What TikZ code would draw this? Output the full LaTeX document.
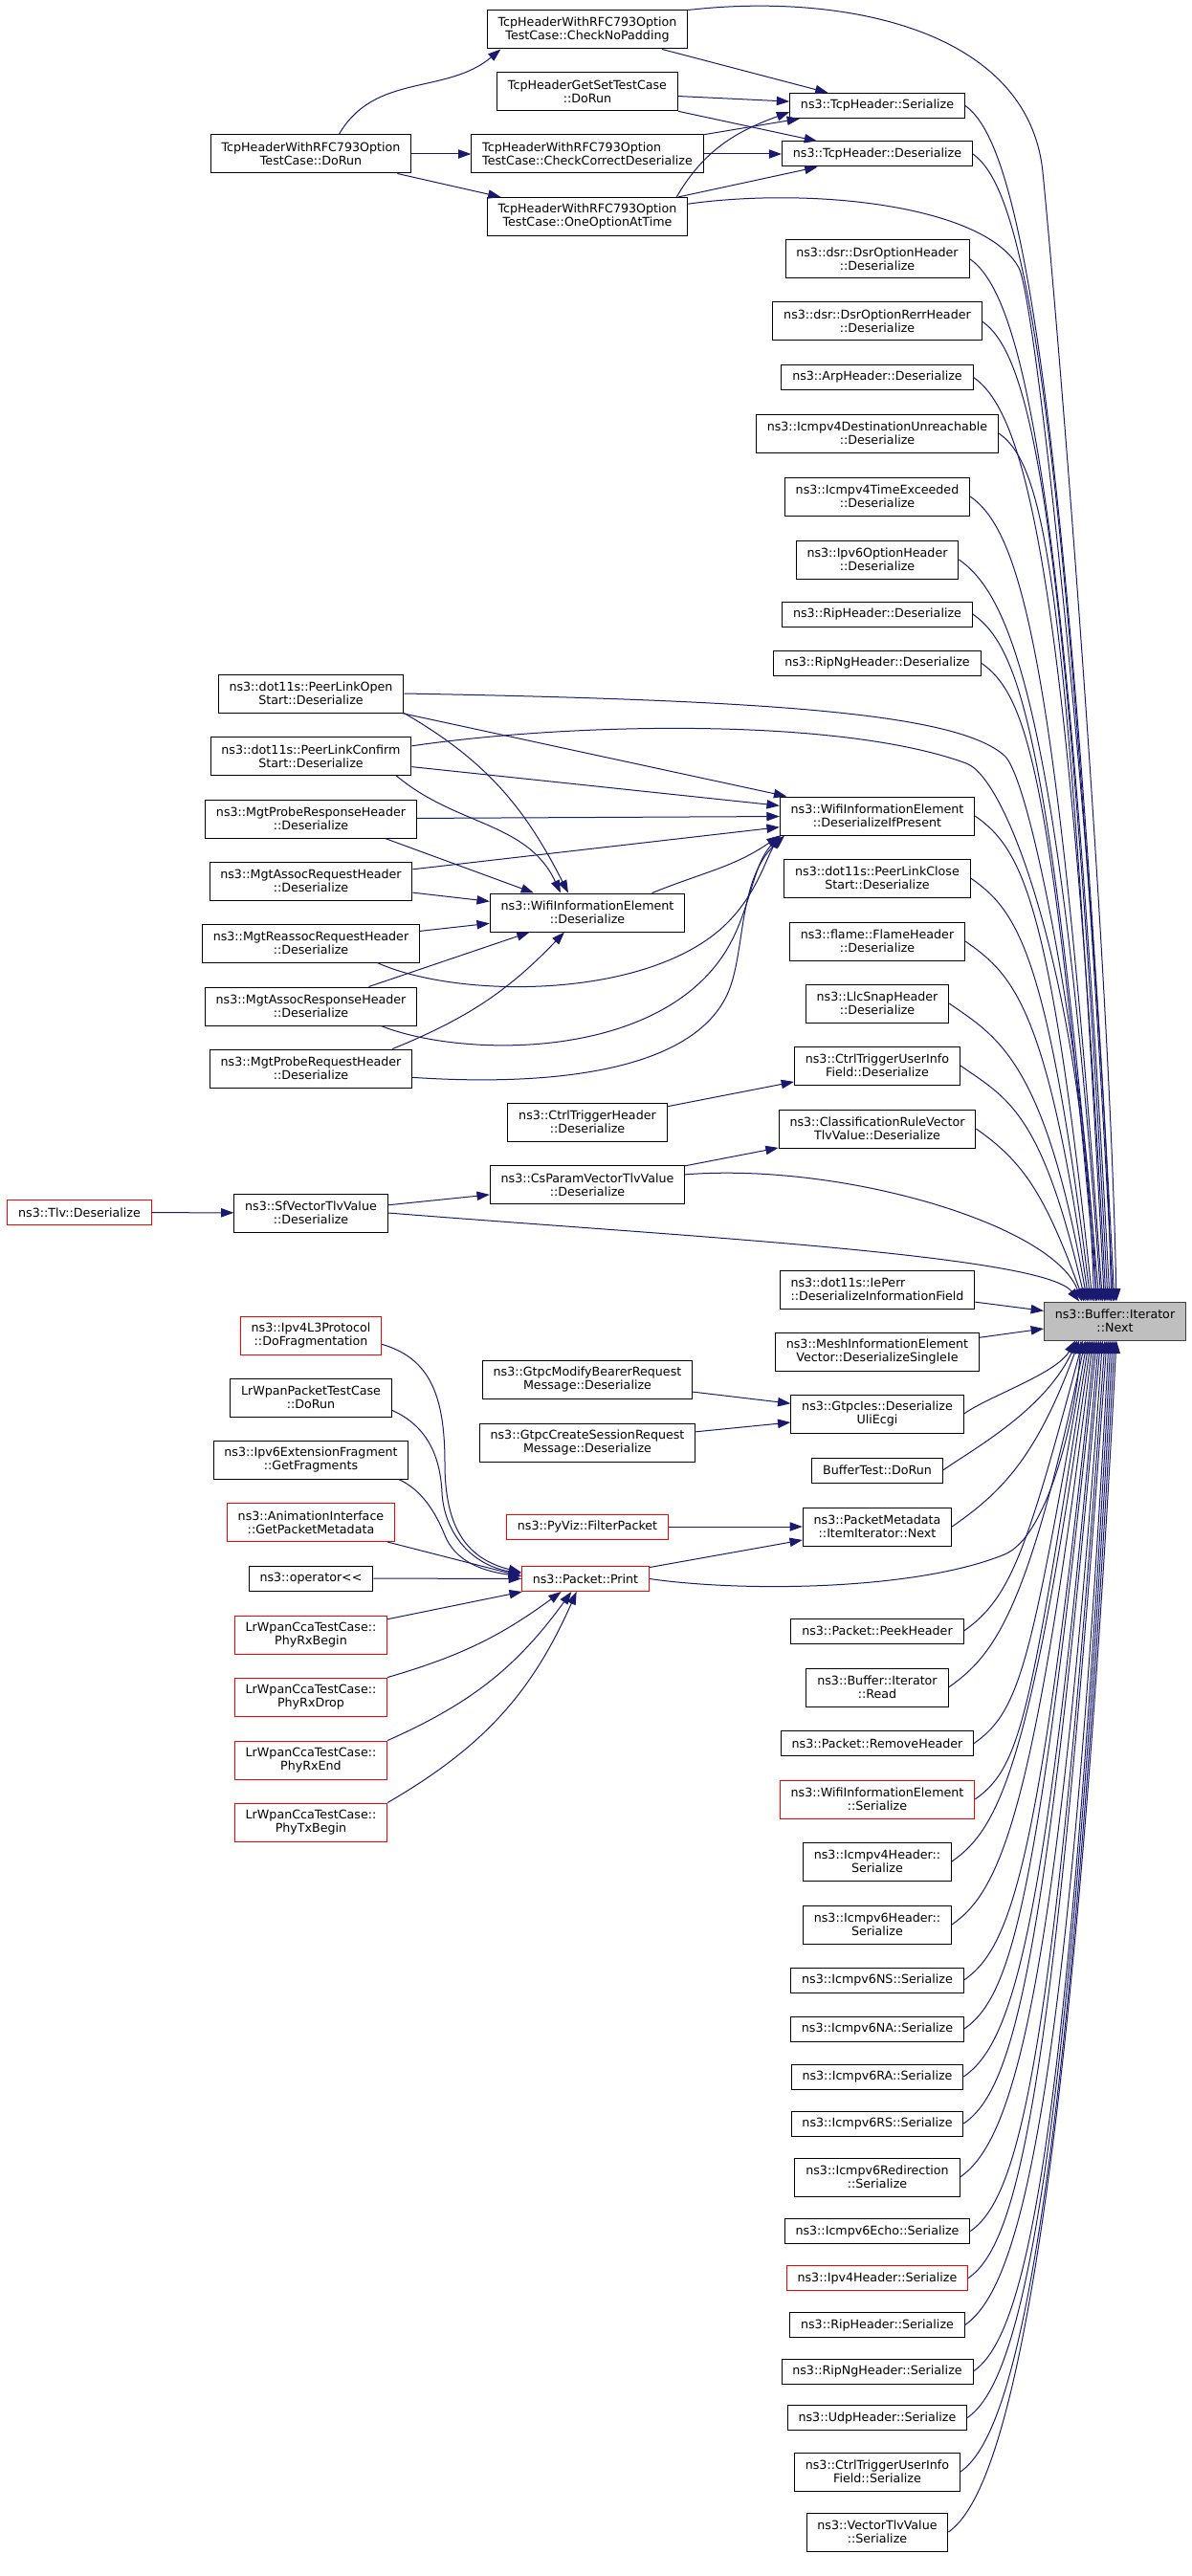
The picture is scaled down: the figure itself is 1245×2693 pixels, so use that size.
\documentclass[tikz,border=0pt]{standalone}
\usepackage{fontspec}
\setmainfont{DejaVu Sans}
\usetikzlibrary{arrows.meta}
\definecolor{edgeblue}{HTML}{191970}
\definecolor{boxred}{HTML}{FF0000}
\definecolor{boxgrey}{HTML}{BFBFBF}
\definecolor{boxborder}{HTML}{404040}

\begin{document}
\begin{tikzpicture}[x=0.75pt, y=-0.75pt,
	fn/.style={rectangle, draw=black, fill=white, line width=0.75pt, font=\fontsize{9.5}{10.5}\selectfont, align=center, inner xsep=8.5pt, inner ysep=2pt, minimum height=19.5pt},
	fn2/.style={fn, minimum height=30pt},
	fnred/.style={draw=boxred},
	fntarget/.style={fill=boxgrey, draw=boxborder},
	call/.style={draw=edgeblue, line width=0.75pt, -{Triangle[length=10pt, width=7pt]}},
	tonextup/.style 2 args={out=-35, in=#1, out distance=45pt, in distance=#2},
	tonextdown/.style 2 args={out=35, in=#1, out distance=45pt, in distance=#2}]
		\useasboundingbox (0,0) rectangle (1245,2693);
		\fill[white] (0,0) rectangle (1245,2693);
		%Ziel
		\node[fn2, fntarget] (next) at (1165.5,1381) {ns3::Buffer::Iterator\\::Next};
		%Tcp-Tests
		\node[fn2] (nopad) at (614,31) {TcpHeaderWithRFC793Option\\TestCase::CheckNoPadding};
		\node[fn2] (getset) at (614,96) {TcpHeaderGetSetTestCase\\::DoRun};
		\node[fn2] (rfcrun) at (325,161) {TcpHeaderWithRFC793Option\\TestCase::DoRun};
		\node[fn2, align=left] (correct) at (614,161) {TcpHeaderWithRFC793Option\\TestCase::CheckCorrectDeserialize};
		\node[fn2] (oneopt) at (614,226.5) {TcpHeaderWithRFC793Option\\TestCase::OneOptionAtTime};
		%rechte Spalte
		\node[fn] (tcpser) at (917,110.5) {ns3::TcpHeader::Serialize};
		\node[fn] (tcpdes) at (917,161) {ns3::TcpHeader::Deserialize};
		\node[fn2] (dsr) at (917,270.5) {ns3::dsr::DsrOptionHeader\\::Deserialize};
		\node[fn2] (dsrrerr) at (917,336) {ns3::dsr::DsrOptionRerrHeader\\::Deserialize};
		\node[fn] (arp) at (917,394.5) {ns3::ArpHeader::Deserialize};
		\node[fn2] (icmp4dest) at (917,453) {ns3::Icmpv4DestinationUnreachable\\::Deserialize};
		\node[fn2] (icmp4time) at (917,519) {ns3::Icmpv4TimeExceeded\\::Deserialize};
		\node[fn2] (ipv6opt) at (917,585) {ns3::Ipv6OptionHeader\\::Deserialize};
		\node[fn] (ripdes) at (917,642) {ns3::RipHeader::Deserialize};
		\node[fn] (ripngdes) at (917,693) {ns3::RipNgHeader::Deserialize};
		\node[fn2] (ifpresent) at (917,853) {ns3::WifiInformationElement\\::DeserializeIfPresent};
		\node[fn2] (linkclose) at (917,918) {ns3::dot11s::PeerLinkClose\\Start::Deserialize};
		\node[fn2] (flame) at (917,984) {ns3::flame::FlameHeader\\::Deserialize};
		\node[fn2] (llc) at (917,1049) {ns3::LlcSnapHeader\\::Deserialize};
		\node[fn2] (ctrluides) at (917,1114) {ns3::CtrlTriggerUserInfo\\Field::Deserialize};
		\node[fn2] (classrule) at (917,1180) {ns3::ClassificationRuleVector\\TlvValue::Deserialize};
		\node[fn2, align=left] (ieperr) at (917,1348) {ns3::dot11s::IePerr\\::DeserializeInformationField};
		\node[fn2] (meshie) at (917,1413) {ns3::MeshInformationElement\\Vector::DeserializeSingleIe};
		\node[fn2] (gtpcies) at (917,1478) {ns3::GtpcIes::Deserialize\\UliEcgi};
		\node[fn] (buftest) at (917,1537) {BufferTest::DoRun};
		\node[fn2] (itemnext) at (917,1596) {ns3::PacketMetadata\\::ItemIterator::Next};
		\node[fn] (peek) at (917,1705) {ns3::Packet::PeekHeader};
		\node[fn2] (read) at (917,1764) {ns3::Buffer::Iterator\\::Read};
		\node[fn] (remove) at (917,1822.5) {ns3::Packet::RemoveHeader};
		\node[fn2, fnred] (wifiser) at (917,1881) {ns3::WifiInformationElement\\::Serialize};
		\node[fn2] (icmp4ser) at (917,1946) {ns3::Icmpv4Header::\\Serialize};
		\node[fn2] (icmp6ser) at (917,2012) {ns3::Icmpv6Header::\\Serialize};
		\node[fn] (ns) at (917,2070) {ns3::Icmpv6NS::Serialize};
		\node[fn] (na) at (917,2121) {ns3::Icmpv6NA::Serialize};
		\node[fn] (ra) at (917,2171) {ns3::Icmpv6RA::Serialize};
		\node[fn] (rs) at (917,2220) {ns3::Icmpv6RS::Serialize};
		\node[fn2] (redir) at (917,2276) {ns3::Icmpv6Redirection\\::Serialize};
		\node[fn] (echo) at (917,2332.5) {ns3::Icmpv6Echo::Serialize};
		\node[fn, fnred] (ipv4ser) at (917,2381.5) {ns3::Ipv4Header::Serialize};
		\node[fn] (ripser) at (917,2430.5) {ns3::RipHeader::Serialize};
		\node[fn] (ripngser) at (917,2479) {ns3::RipNgHeader::Serialize};
		\node[fn] (udpser) at (917,2527.5) {ns3::UdpHeader::Serialize};
		\node[fn2] (ctrluiser) at (917,2584) {ns3::CtrlTriggerUserInfo\\Field::Serialize};
		\node[fn2] (vectorser) at (917,2647) {ns3::VectorTlvValue\\::Serialize};
		%mittlere Spalte
		\node[fn2] (wifides) at (614,954) {ns3::WifiInformationElement\\::Deserialize};
		\node[fn2] (ctrlhdr) at (614,1173) {ns3::CtrlTriggerHeader\\::Deserialize};
		\node[fn2] (csparam) at (614,1238.5) {ns3::CsParamVectorTlvValue\\::Deserialize};
		\node[fn2] (gtpcmod) at (614,1442) {ns3::GtpcModifyBearerRequest\\Message::Deserialize};
		\node[fn2] (gtpccreate) at (614,1508) {ns3::GtpcCreateSessionRequest\\Message::Deserialize};
		\node[fn, fnred] (pyviz) at (614,1596) {ns3::PyViz::FilterPacket};
		\node[fn, fnred] (print) at (612,1650.5) {ns3::Packet::Print};
		%linke Spalte
		\node[fn2] (linkopen) at (325,725) {ns3::dot11s::PeerLinkOpen\\Start::Deserialize};
		\node[fn2] (linkconfirm) at (325,790.5) {ns3::dot11s::PeerLinkConfirm\\Start::Deserialize};
		\node[fn2] (proberesp) at (325,856) {ns3::MgtProbeResponseHeader\\::Deserialize};
		\node[fn2] (assocreq) at (325,921) {ns3::MgtAssocRequestHeader\\::Deserialize};
		\node[fn2] (reassoc) at (325,986) {ns3::MgtReassocRequestHeader\\::Deserialize};
		\node[fn2] (assocresp) at (325,1052) {ns3::MgtAssocResponseHeader\\::Deserialize};
		\node[fn2] (probereq) at (325,1117) {ns3::MgtProbeRequestHeader\\::Deserialize};
		\node[fn2] (sfvector) at (325,1268) {ns3::SfVectorTlvValue\\::Deserialize};
		\node[fn, fnred] (tlv) at (83,1267.5) {ns3::Tlv::Deserialize};
		\node[fn2, fnred] (dofrag) at (325,1396) {ns3::Ipv4L3Protocol\\::DoFragmentation};
		\node[fn2] (lrpacket) at (325,1461) {LrWpanPacketTestCase\\::DoRun};
		\node[fn2] (ipv6frag) at (325,1526) {ns3::Ipv6ExtensionFragment\\::GetFragments};
		\node[fn2, fnred] (anim) at (325,1591.5) {ns3::AnimationInterface\\::GetPacketMetadata};
		\node[fn] (oplshift) at (325,1650) {ns3::operator<\kern0pt<};
		\node[fn2, fnred] (rxbegin) at (325,1709) {LrWpanCcaTestCase::\\PhyRxBegin};
		\node[fn2, fnred] (rxdrop) at (325,1774) {LrWpanCcaTestCase::\\PhyRxDrop};
		\node[fn2, fnred] (rxend) at (325,1840) {LrWpanCcaTestCase::\\PhyRxEnd};
		\node[fn2, fnred] (txbegin) at (325,1905) {LrWpanCcaTestCase::\\PhyTxBegin};
		%Tcp-Aufrufe
		\draw[call] ([xshift=22pt]rfcrun.north) to[out=60, in=-140] ([xshift=11pt]nopad.south west);
		\draw[call] (rfcrun) -- (correct);
		\draw[call] (rfcrun) -- (oneopt);
		\draw[call] (nopad) -- (tcpser);
		\draw[call] (getset) -- (tcpser);
		\draw[call] (getset) -- (tcpdes);
		\draw[call] (correct) -- (tcpser);
		\draw[call] (correct) -- (tcpdes);
		\draw[call] ([xshift=-9pt]oneopt.north east) to[out=60, in=-160] ([yshift=-5pt]tcpser.west);
		\draw[call] (oneopt) -- (tcpdes);
		%Wifi-Aufrufe
		\draw[call] (linkopen) -- (ifpresent);
		\draw[call] (linkopen.south east) to[out=-30, in=117] ([xshift=-15pt]wifides.north);
		\draw[call] (linkconfirm) -- (ifpresent);
		\draw[call] ([xshift=-12pt]linkconfirm.south east) to[out=-40, in=115] ([xshift=-21pt]wifides.north);
		\draw[call] (proberesp) -- (ifpresent);
		\draw[call] ([xshift=-25pt]proberesp.south east) -- ([xshift=-42pt]wifides.north);
		\draw[call] (assocreq) -- (ifpresent);
		\draw[call] (assocreq) -- (wifides);
		\draw[call] (reassoc) -- (wifides);
		\draw[call] ([xshift=52pt]reassoc.south) .. controls (480,1045) and (680,1045) .. (760,965) .. controls (790,935) and (800,900) .. (ifpresent.south west);
		\draw[call] (assocresp) -- (wifides);
		\draw[call] ([xshift=55pt]assocresp.south) .. controls (480,1105) and (680,1110) .. (755,1000) .. controls (785,956) and (785,905) .. ([xshift=1pt]ifpresent.south west);
		\draw[call] ([xshift=64pt]probereq.north) to[bend right=12] ([xshift=-18pt]wifides.south);
		\draw[call] ([yshift=-7pt]probereq.east) .. controls (560,1135) and (720,1125) .. (760,1040) .. controls (780,997) and (770,920) .. ([xshift=4pt]ifpresent.south west);
		\draw[call] ([xshift=-26pt]wifides.north east) to[out=22, in=-145] (ifpresent.south west);
		%Tlv und Gtpc
		\draw[call] (tlv) -- (sfvector);
		\draw[call] (sfvector) -- (csparam);
		\draw[call] (csparam) -- (classrule);
		\draw[call] (ctrlhdr) -- (ctrluides);
		\draw[call] (gtpcmod) -- (gtpcies);
		\draw[call] (gtpccreate) -- (gtpcies);
		%Packet::Print
		\draw[call] (pyviz) -- (itemnext);
		\draw[call] (print) -- (itemnext);
		\draw[call] ([yshift=-7pt]dofrag.east) .. controls (450,1420) and (465,1460) .. (465,1530) .. controls (465,1600) and (490,1630) .. ([yshift=5pt]print.west);
		\draw[call] ([yshift=-10pt]lrpacket.east) .. controls (445,1490) and (460,1520) .. (462,1560) .. controls (464,1600) and (490,1635) .. ([yshift=4pt]print.west);
		\draw[call] ([xshift=-8pt]ipv6frag.south east) .. controls (440,1557) and (455,1580) .. (465,1605) .. controls (475,1630) and (500,1642) .. ([yshift=2pt]print.west);
		\draw[call] (anim) -- ([yshift=2pt]print.west);
		\draw[call] (oplshift) -- (print);
		\draw[call] (rxbegin) -- (print);
		\draw[call] (rxdrop.north east) to[bend right=10] ([xshift=-19pt]print.south);
		\draw[call] (rxend.north east) to[bend right=15] ([xshift=-11pt]print.south);
		\draw[call] (txbegin.north east) to[bend right=18] ([xshift=-7pt]print.south);
		%lange Boegen zum Ziel
		\draw[call] (nopad.north east) .. controls (880,-8) and (1075,30) .. (1090,180) .. controls (1105,330) and (1160,1000) .. ([xshift=1.1pt]next.north);
		\draw[call] ([yshift=10pt]oneopt.east) .. controls (850,195) and (1030,215) .. (1065,280) .. controls (1085,318) and (1155,1000) .. ([xshift=-3pt]next.north);
		\draw[call] (linkopen.east) .. controls (800,732) and (1000,745) .. (1050,790) .. controls (1080,817) and (1140,1150) .. ([xshift=-15pt]next.north);
		\draw[call] ([yshift=8pt]linkconfirm.east) .. controls (600,755) and (880,750) .. (1010,798) .. controls (1057,815) and (1135,1050) .. ([xshift=-16.5pt]next.north);
		\draw[call] ([yshift=8pt]csparam.east) .. controls (880,1215) and (1100,1280) .. ([xshift=-25.9pt]next.north);
		\draw[call] (sfvector.east) .. controls (707,1292) and (1091,1312) .. ([xshift=-28pt]next.north);
		\draw[call] (print.east) .. controls (780,1665) and (960,1662) .. (1050,1625) .. controls (1095,1607) and (1125,1480) .. ([xshift=-26.6pt]next.south);
		%rechte Spalte zum Ziel, oben
		\draw[call] (tcpser.east) to[tonextup={93}{775pt}] ([xshift=-0.4pt]next.north);
		\draw[call] (tcpdes.east) to[tonextup={93}{744pt}] ([xshift=-1.5pt]next.north);
		\draw[call] (dsr.east) to[tonextup={93}{676pt}] ([xshift=-4.1pt]next.north);
		\draw[call] (dsrrerr.east) to[tonextup={93}{636pt}] ([xshift=-5.6pt]next.north);
		\draw[call] (arp.east) to[tonextup={93}{599pt}] ([xshift=-7.1pt]next.north);
		\draw[call] (icmp4dest.east) to[tonextup={93}{563pt}] ([xshift=-8.3pt]next.north);
		\draw[call] (icmp4time.east) to[tonextup={94}{522pt}] ([xshift=-9.8pt]next.north);
		\draw[call] (ipv6opt.east) to[tonextup={94}{481pt}] ([xshift=-10.9pt]next.north);
		\draw[call] (ripdes.east) to[tonextup={95}{446pt}] ([xshift=-12.4pt]next.north);
		\draw[call] (ripngdes.east) to[tonextup={95}{414pt}] ([xshift=-13.9pt]next.north);
		\draw[call] (ifpresent.east) to[tonextup={96}{315pt}] ([xshift=-17.6pt]next.north);
		\draw[call] (linkclose.east) to[tonextup={97}{275pt}] ([xshift=-19.1pt]next.north);
		\draw[call] (flame.east) to[tonextup={98}{234pt}] ([xshift=-20.6pt]next.north);
		\draw[call] (llc.east) to[tonextup={100}{193pt}] ([xshift=-21.8pt]next.north);
		\draw[call] (ctrluides.east) to[tonextup={103}{153pt}] ([xshift=-23.3pt]next.north);
		\draw[call] (classrule.east) to[tonextup={110}{90pt}] ([xshift=-24.4pt]next.north);
		\draw[call] (ieperr) -- ([yshift=8pt]next.west);
		\draw[call] (meshie) -- ([yshift=-6pt]next.west);
		%rechte Spalte zum Ziel, unten
		\draw[call] (gtpcies.east) to[out=35, in=-120, out distance=25pt, in distance=30pt] ([xshift=-31.1pt]next.south);
		\draw[call] (buftest.east) to[out=35, in=-115, out distance=30pt, in distance=60pt] ([xshift=-29.6pt]next.south);
		\draw[call] (itemnext.east) to[tonextdown={-110}{100pt}] ([xshift=-28.1pt]next.south);
		\draw[call] (peek.east) to[tonextdown={-105}{170pt}] ([xshift=-25.1pt]next.south);
		\draw[call] (read.east) to[tonextdown={-102}{215pt}] ([xshift=-23.3pt]next.south);
		\draw[call] (remove.east) to[tonextdown={-100}{255pt}] ([xshift=-21.8pt]next.south);
		\draw[call] (wifiser.east) to[tonextdown={-99}{295pt}] ([xshift=-20.3pt]next.south);
		\draw[call] (icmp4ser.east) to[tonextdown={-98}{338pt}] ([xshift=-18.8pt]next.south);
		\draw[call] (icmp6ser.east) to[tonextdown={-97}{379pt}] ([xshift=-17.3pt]next.south);
		\draw[call] (ns.east) to[tonextdown={-96}{415pt}] ([xshift=-15.8pt]next.south);
		\draw[call] (na.east) to[tonextdown={-96}{446pt}] ([xshift=-14.3pt]next.south);
		\draw[call] (ra.east) to[tonextdown={-95}{477pt}] ([xshift=-12.8pt]next.south);
		\draw[call] (rs.east) to[tonextdown={-95}{508pt}] ([xshift=-11.3pt]next.south);
		\draw[call] (redir.east) to[tonextdown={-94}{542pt}] ([xshift=-9.8pt]next.south);
		\draw[call] (echo.east) to[tonextdown={-94}{577pt}] ([xshift=-7.9pt]next.south);
		\draw[call] (ipv4ser.east) to[tonextdown={-94}{608pt}] ([xshift=-6.4pt]next.south);
		\draw[call] (ripser.east) to[tonextdown={-93}{638pt}] ([xshift=-4.9pt]next.south);
		\draw[call] (ripngser.east) to[tonextdown={-93}{668pt}] ([xshift=-3.4pt]next.south);
		\draw[call] (udpser.east) to[tonextdown={-93}{698pt}] ([xshift=-1.9pt]next.south);
		\draw[call] (ctrluiser.east) to[tonextdown={-93}{733pt}] ([xshift=-0.4pt]next.south);
		\draw[call] (vectorser.east) to[tonextdown={-93}{772pt}] ([xshift=1.1pt]next.south);
	\end{tikzpicture}
\end{document}
